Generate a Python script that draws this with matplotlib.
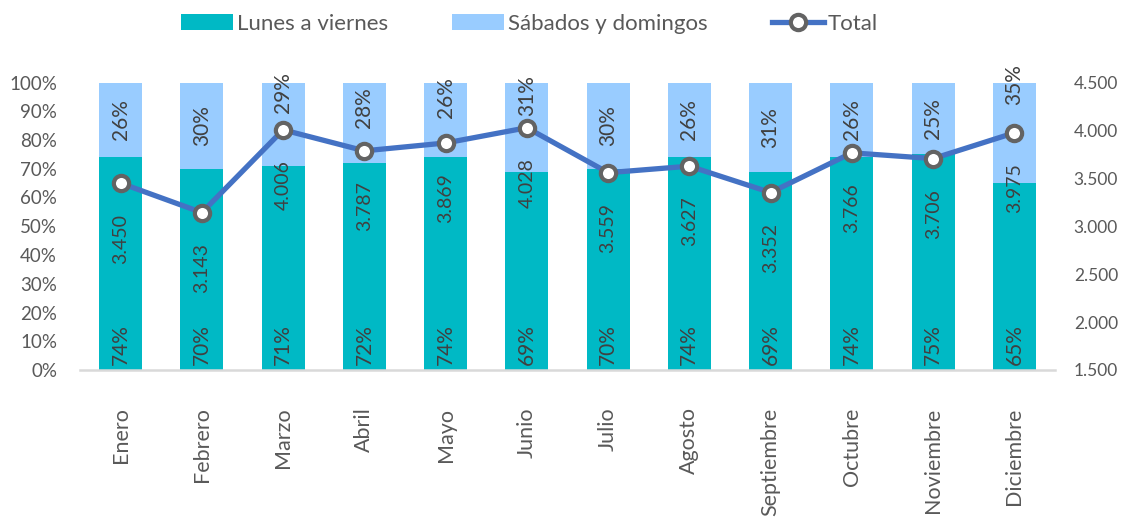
import matplotlib
matplotlib.use("Agg")
import matplotlib.pyplot as plt
from matplotlib.ticker import FuncFormatter, FixedLocator
from matplotlib.patches import Patch
from matplotlib.lines import Line2D
import numpy as np

months = ['Enero', 'Febrero', 'Marzo', 'Abril', 'Mayo', 'Junio', 'Julio',
          'Agosto', 'Septiembre', 'Octubre', 'Noviembre', 'Diciembre']
weekday_pct = [74, 70, 71, 72, 74, 69, 70, 74, 69, 74, 75, 65]
weekend_pct = [26, 30, 29, 28, 26, 31, 30, 26, 31, 26, 25, 35]
total = [3450, 3143, 4006, 3787, 3869, 4028, 3559, 3627, 3352, 3766, 3706, 3975]

# style: vertical nudges (points) of weekend labels that were moved to avoid the line
weekend_label_nudge = [0, 0, 23, 11, 16, 23, 0, 0, 0, 0, 0, 35]

TEAL = '#00B9C5'
LIGHT = '#99CCFF'
LINE = '#4472C4'
MEDGE = '#636363'
TXT = '#595959'
LBL = '#404040'

plt.rcParams['font.family'] = ['Lato', 'DejaVu Sans']

fig = plt.figure(figsize=(11.22, 5.25), dpi=100)
ax = fig.add_axes([80 / 1122, 1 - 370 / 525, 975 / 1122, (370 - 82.5) / 525])
ax2 = ax.twinx()

x = np.arange(len(months))
wd = np.array(weekday_pct) / 100
we = np.array(weekend_pct) / 100
bw = 0.53
ax.bar(x, wd, width=bw, color=TEAL, zorder=2)
ax.bar(x, we, width=bw, bottom=wd, color=LIGHT, zorder=2)

fs = 15
for i in range(len(months)):
    ax.annotate(f"{weekday_pct[i]}%", (x[i], 0), xytext=(0, 3.5), textcoords='offset points',
                rotation=90, ha='center', va='bottom', fontsize=fs, color=LBL, zorder=4)
    ax.annotate(f"{weekend_pct[i]}%", (x[i], wd[i] + we[i] / 2),
                xytext=(0, weekend_label_nudge[i]), textcoords='offset points',
                rotation=90, ha='center', va='center', fontsize=fs, color=LBL, zorder=4)

ax2.plot(x, total, color=LINE, lw=3.8, marker='o', markersize=11,
         markerfacecolor='white', markeredgecolor=MEDGE, markeredgewidth=3, zorder=5)
for i in range(len(months)):
    ax2.annotate(f"{total[i]:,}".replace(',', '.'), (x[i], total[i]), xytext=(0, -22),
                 textcoords='offset points', rotation=90, ha='center', va='top',
                 fontsize=14, color=LBL, zorder=3)

ax.set_xlim(-0.5, len(months) - 0.5)
ax.set_ylim(0, 1.0)
ax2.set_ylim(1500, 4500)

ax.yaxis.set_major_locator(FixedLocator(np.arange(0, 1.01, 0.1)))
ax.yaxis.set_major_formatter(FuncFormatter(lambda v, p: f"{v * 100:.0f}%"))
ax2.yaxis.set_major_locator(FixedLocator(np.arange(1500, 4501, 500)))
ax2.yaxis.set_major_formatter(FuncFormatter(lambda v, p: f"{v:,.0f}".replace(',', '.')))

ax.set_xticks(x)
ax.set_xticklabels(months, rotation=90, fontsize=15.5, color=TXT)
ax.tick_params(axis='x', length=0, pad=27)
ax.tick_params(axis='y', length=0, pad=16.5, labelsize=13.5, labelcolor=TXT)
ax2.tick_params(axis='y', length=0, pad=13.5, labelsize=12.5, labelcolor=TXT)

for a in (ax, ax2):
    for s in a.spines.values():
        s.set_visible(False)
ax.spines['bottom'].set_visible(True)
ax.spines['bottom'].set_color('#D9D9D9')
ax.spines['bottom'].set_linewidth(1.8)

handles = [Patch(facecolor=TEAL, edgecolor='none'),
           Patch(facecolor=LIGHT, edgecolor='none'),
           Line2D([0], [0], color=LINE, lw=3.8, marker='o', markersize=11,
                  markerfacecolor='white', markeredgecolor=MEDGE, markeredgewidth=3)]
labels = ['Lunes a viernes', 'Sábados y domingos', 'Total']
leg = fig.legend(handles, labels, loc='center', bbox_to_anchor=(0.472, 0.955), ncol=3,
                 frameon=False, fontsize=16, handlelength=2.36, handleheight=0.75,
                 handletextpad=0.18, columnspacing=2.86, labelcolor=TXT)

fig.savefig('out.png', dpi=100)
